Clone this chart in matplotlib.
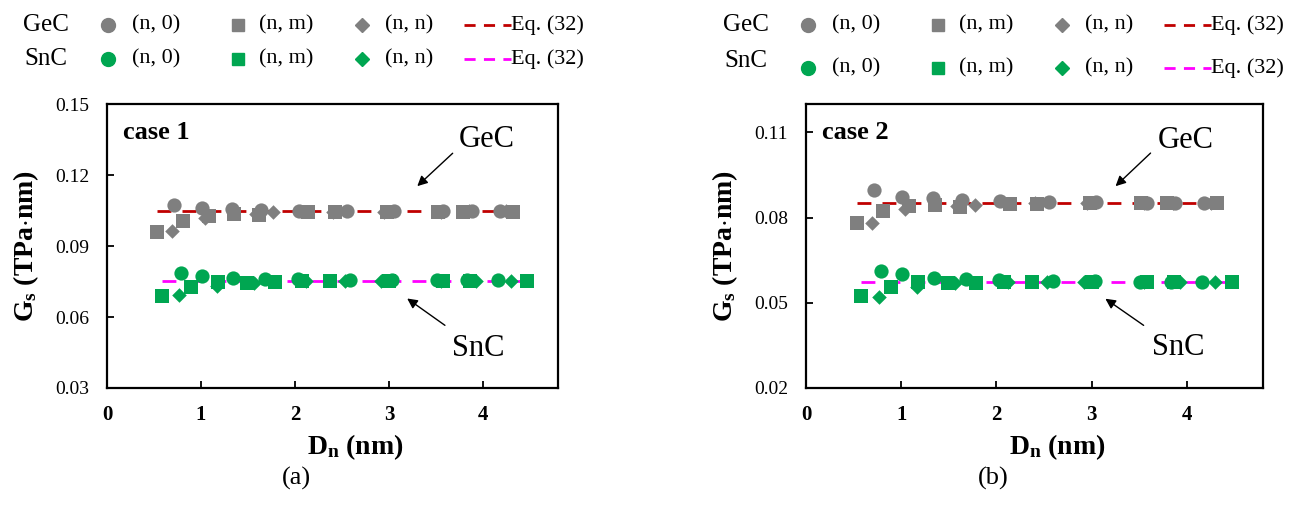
import matplotlib
matplotlib.use("Agg")
import matplotlib.pyplot as plt
from matplotlib.lines import Line2D

plt.rcParams['font.family'] = ['Liberation Serif', 'DejaVu Serif']
plt.rcParams['mathtext.fontset'] = 'custom'
plt.rcParams['mathtext.rm'] = 'Liberation Serif'
plt.rcParams['mathtext.bf'] = 'Liberation Serif:bold'

# diameters (nm) of the tubes
d_n0 = [0.71, 1.01, 1.33, 1.64, 2.04, 2.55, 3.05, 3.58, 3.88, 4.18]
d_nm = [0.53, 0.81, 1.08, 1.35, 1.62, 2.14, 2.43, 2.98, 3.52, 3.79, 4.32]
d_nn = [0.69, 1.04, 1.59, 1.77, 2.41, 2.95, 3.55, 3.85, 4.25]
s_n0 = [0.79, 1.01, 1.34, 1.68, 2.03, 2.59, 3.03, 3.51, 3.83, 4.16]
s_nm = [0.58, 0.89, 1.18, 1.49, 1.79, 2.08, 2.37, 3.00, 3.58, 3.86, 4.47]
s_nn = [0.77, 1.17, 1.56, 2.12, 2.53, 2.92, 3.55, 3.93, 4.30]

# case 1
gec1_n0 = [0.1073, 0.1062, 0.1055, 0.1052, 0.1049, 0.1048, 0.1047, 0.1046, 0.1046, 0.1046]
gec1_nm = [0.0958, 0.1006, 0.1028, 0.1036, 0.1031, 0.1044, 0.1042, 0.1043, 0.1044, 0.1044, 0.1045]
gec1_nn = [0.0963, 0.1020, 0.1035, 0.1042, 0.1044, 0.1045, 0.1045, 0.1046, 0.1046]
snc1_n0 = [0.0786, 0.0773, 0.0765, 0.0762, 0.0759, 0.0757, 0.0756, 0.0755, 0.0755, 0.0755]
snc1_nm = [0.0690, 0.0727, 0.0748, 0.0745, 0.0746, 0.0751, 0.0752, 0.0753, 0.0754, 0.0754, 0.0754]
snc1_nn = [0.0694, 0.0731, 0.0745, 0.0752, 0.0753, 0.0753, 0.0754, 0.0754, 0.0754]
eq1 = [0.1047, 0.0754]

# case 2
gec2_n0 = [0.0897, 0.0873, 0.0869, 0.0862, 0.0860, 0.0856, 0.0854, 0.0853, 0.0853, 0.0853]
gec2_nm = [0.0781, 0.0823, 0.0841, 0.0844, 0.0837, 0.0848, 0.0849, 0.0850, 0.0851, 0.0851, 0.0852]
gec2_nn = [0.0781, 0.0830, 0.0840, 0.0845, 0.0850, 0.0851, 0.0852, 0.0852, 0.0852]
snc2_n0 = [0.0612, 0.0601, 0.0587, 0.0584, 0.0580, 0.0577, 0.0576, 0.0575, 0.0575, 0.0575]
snc2_nm = [0.0524, 0.0556, 0.0573, 0.0570, 0.0571, 0.0573, 0.0574, 0.0574, 0.0575, 0.0575, 0.0575]
snc2_nn = [0.0520, 0.0556, 0.0570, 0.0573, 0.0574, 0.0574, 0.0575, 0.0575, 0.0575]
eq2 = [0.0852, 0.0574]

eq_x_gec = [0.53, 4.38]
eq_x_snc = [0.58, 4.50]

GRAY = '#7f7f7f'
GREEN = '#00a651'
RED = '#c00000'
MAGENTA = '#ff00ff'

fig = plt.figure(figsize=(12.93, 5.05), dpi=100)
ax1 = fig.add_axes([0.0828, 0.2317, 0.3488, 0.5623])
ax2 = fig.add_axes([0.6234, 0.2317, 0.3534, 0.5623])

cases = [
    (ax1, gec1_n0, gec1_nm, gec1_nn, snc1_n0, snc1_nm, snc1_nn, eq1,
     (0.03, 0.15), [0.03, 0.06, 0.09, 0.12, 0.15], 'case 1',
     [(4.04, 0.1348), (3.70, 0.130), (3.28, 0.1145)],
     [(3.95, 0.0469), (3.62, 0.0558), (3.17, 0.0685)]),
    (ax2, gec2_n0, gec2_nm, gec2_nn, snc2_n0, snc2_nm, snc2_nn, eq2,
     (0.02, 0.12), [0.02, 0.05, 0.08, 0.11], 'case 2',
     [(3.99, 0.1073), (3.64, 0.1034), (3.23, 0.0904)],
     [(3.91, 0.0341), (3.57, 0.0415), (3.12, 0.052)]),
]

for (ax, g0, gm, gn, s0, sm, sn, eq, ylim, yticks, label, gann, sann) in cases:
    ax.plot(eq_x_gec, [eq[0], eq[0]], ls=(0, (5, 4)), color=RED, lw=2, zorder=1)
    ax.plot(eq_x_snc, [eq[1], eq[1]], ls=(0, (5, 4)), color=MAGENTA, lw=2, zorder=1)
    ax.scatter(d_nn, gn, marker='D', s=55, color=GRAY, lw=0, zorder=2)
    ax.scatter(d_nm, gm, marker='s', s=95, color=GRAY, lw=0, zorder=3)
    ax.scatter(d_n0, g0, marker='o', s=105, color=GRAY, lw=0, zorder=4)
    ax.scatter(s_nn, sn, marker='D', s=55, color=GREEN, lw=0, zorder=2)
    ax.scatter(s_nm, sm, marker='s', s=95, color=GREEN, lw=0, zorder=3)
    ax.scatter(s_n0, s0, marker='o', s=105, color=GREEN, lw=0, zorder=4)

    ax.set_xlim(0, 4.8)
    ax.set_ylim(*ylim)
    ax.set_xticks([0, 1, 2, 3, 4])
    ax.set_yticks(yticks)
    ax.set_yticklabels([f'{v:.2f}' for v in yticks], fontsize=14)
    ax.set_xticklabels(['0', '1', '2', '3', '4'], fontsize=15, fontweight='bold')
    ax.tick_params(direction='in', length=5, width=1.3)
    ax.tick_params(axis='x', pad=12)
    ax.tick_params(axis='y', pad=13)
    for sp in ax.spines.values():
        sp.set_linewidth(1.6)

    ax.set_xlabel(r'$\mathbf{D_n}$ (nm)', fontsize=20, fontweight='bold')
    ax.xaxis.set_label_coords(0.55, -0.155)
    ax.set_ylabel(r'$\mathbf{G_s}$ (TPa$\cdot$nm)', fontsize=20, fontweight='bold',
                  labelpad=10)

    ax.text(0.17, ylim[0] + (ylim[1] - ylim[0]) * 0.898, label, fontsize=19,
            fontweight='bold', va='center', ha='left')
    ax.annotate('GeC', xy=gann[2], xytext=gann[0], fontsize=22, ha='center',
                va='center')
    ax.annotate('', xy=gann[2], xytext=gann[1],
                arrowprops=dict(arrowstyle='-|>', color='black', lw=1,
                                mutation_scale=15))
    ax.annotate('SnC', xy=sann[2], xytext=sann[0], fontsize=22, ha='center',
                va='center')
    ax.annotate('', xy=sann[2], xytext=sann[1],
                arrowprops=dict(arrowstyle='-|>', color='black', lw=1,
                                mutation_scale=15))

fig.text(296 / 1293, 1 - 478 / 505, '(a)', fontsize=19, ha='center', va='center')
fig.text(993 / 1293, 1 - 478 / 505, '(b)', fontsize=19, ha='center', va='center')


# legend rows drawn in figure pixels
def fx(px):
    return px / 1293


def fy(py):
    return 1 - py / 505


legend_sets = [
    (0, [(25, 25), (59, 59)]),
    (700, [(25, 25), (61, 68)]),
]
for dx, rows in legend_sets:
    for (name, col, eqcol), (ny, ry) in zip([('GeC', GRAY, RED), ('SnC', GREEN, MAGENTA)], rows):
        fig.text(fx(dx + 46), fy(ny), name, fontsize=18, ha='center', va='center')
        fig.add_artist(Line2D([fx(dx + 108)], [fy(ry)], marker='o', ms=10, color=col,
                              mec=col, transform=fig.transFigure))
        fig.text(fx(dx + 132), fy(ry), '(n, 0)', fontsize=16, ha='left', va='center')
        fig.add_artist(Line2D([fx(dx + 238)], [fy(ry)], marker='s', ms=9, color=col,
                              mec=col, transform=fig.transFigure))
        fig.text(fx(dx + 259), fy(ry), '(n, m)', fontsize=16, ha='left', va='center')
        fig.add_artist(Line2D([fx(dx + 362)], [fy(ry)], marker='D', ms=7, color=col,
                              mec=col, transform=fig.transFigure))
        fig.text(fx(dx + 385), fy(ry), '(n, n)', fontsize=16, ha='left', va='center')
        fig.add_artist(Line2D([fx(dx + 464), fx(dx + 511)], [fy(ry), fy(ry)],
                              ls=(0, (4, 3)), lw=2, color=eqcol, transform=fig.transFigure))
        fig.text(fx(dx + 511), fy(ry), 'Eq. (32)', fontsize=16, ha='left', va='center')

fig.savefig('out.png', dpi=100)
